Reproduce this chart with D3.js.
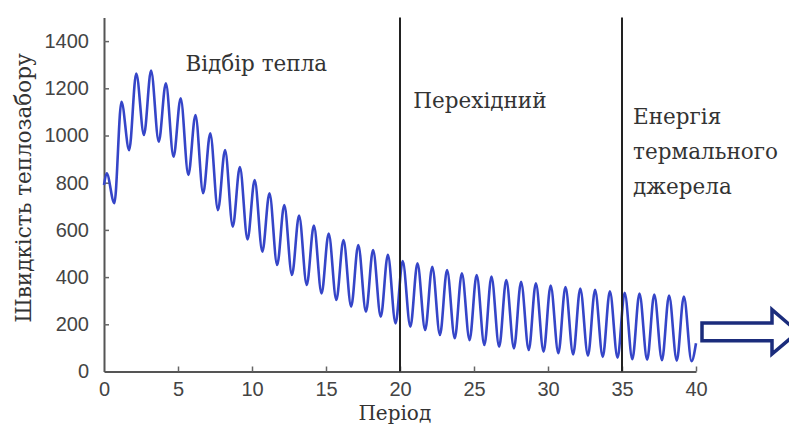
<!DOCTYPE html>
<html>
<head>
<meta charset="utf-8">
<script src="https://cdn.jsdelivr.net/npm/d3@7"></script>
<style>
  body { margin: 0; background: #fff; }
  svg { display: block; }
</style>
</head>
<body>
<div id="chart"></div>
<script>
// one entry per period (cycle 0..39): local max and local min of the heat extraction rate
const cycles = d3.range(0, 40)
const peakVal = [840, 1143, 1263, 1275, 1221, 1158, 1087, 1009, 938, 866,
  811, 755, 705, 661, 618, 585, 557, 536, 515, 494,
  468, 458, 444, 430, 416, 409, 402, 388, 380, 374,
  364, 358, 352, 346, 340, 334, 330, 326, 322, 318]
const troughVal = [713, 938, 1002, 974, 910, 833, 755, 684, 614, 560,
  508, 451, 409, 367, 331, 303, 275, 253, 232, 204,
  190, 176, 155, 141, 133, 112, 105, 98, 91, 84,
  78, 72, 67, 62, 58, 52, 50, 48, 46, 44]
const peakPhase = 0.18
const troughPhase = 0.7
const startPoint = [0, 790]
const endPoint = [40, 120]

const xTicks = [0, 5, 10, 15, 20, 25, 30, 35, 40]
const yTicks = [0, 200, 400, 600, 800, 1000, 1200, 1400]
const dividers = [20, 35]
const zoneLabels = [
  {x: 5.5, y: 1273, lines: ['Відбір тепла']},
  {x: 20.9, y: 1115, lines: ['Перехідний']},
  {x: 35.75, y: 1050, lines: ['Енергія', 'термального', 'джерела']}
]

// build the curve points
let pts = [startPoint]
cycles.forEach((c, i) => {
  pts.push([c + peakPhase, peakVal[i]])
  pts.push([c + troughPhase, troughVal[i]])
})
pts.push(endPoint)

const W = 789, H = 427
const margin = {left: 104, top: 17.5, right: 93, bottom: 55.5}

const svg = d3.select('#chart').append('svg').attr('width', W).attr('height', H)

const x = d3.scaleLinear().domain([0, 40]).range([margin.left, W - margin.right])
const y = d3.scaleLinear().domain([0, 1500]).range([H - margin.bottom, margin.top])

// axes
const yAxis = svg.append('g').attr('transform', `translate(${margin.left},0)`)
  .call(d3.axisLeft(y).tickValues(yTicks).tickFormat(d3.format('d')).tickSize(-5).tickSizeOuter(0).tickPadding(15))
const xAxis = svg.append('g').attr('transform', `translate(0,${y(0)})`)
  .call(d3.axisBottom(x).tickValues(xTicks).tickFormat(d3.format('d')).tickSize(-5).tickSizeOuter(0).tickPadding(10))

;[xAxis, yAxis].forEach(a => {
  a.select('.domain').attr('stroke', '#555').attr('stroke-width', 2)
  a.selectAll('.tick line').attr('stroke', '#666').attr('stroke-width', 1.5)
  a.selectAll('.tick text').attr('fill', '#444').style('font-family', 'Liberation Sans, Arial, sans-serif').style('font-size', '20px')
})
xAxis.selectAll('.tick').filter(d => d === 0).select('line').remove()
yAxis.selectAll('.tick').filter(d => d === 0).select('line').remove()

// the oscillating line
const line = d3.line().x(d => x(d[0])).y(d => y(d[1])).curve(d3.curveMonotoneX)
svg.append('path').datum(pts)
  .attr('d', line)
  .attr('fill', 'none')
  .attr('stroke', '#3545c8')
  .attr('stroke-width', 2.6)

// zone dividers
svg.selectAll('line.divider').data(dividers).enter().append('line')
  .attr('class', 'divider')
  .attr('x1', d => x(d)).attr('x2', d => x(d))
  .attr('y1', y(1500)).attr('y2', y(0))
  .attr('stroke', '#222').attr('stroke-width', 2)

// zone labels
zoneLabels.forEach(z => {
  const t = svg.append('text')
    .attr('x', x(z.x)).attr('y', y(z.y))
    .attr('fill', '#333')
    .style('font-family', 'DejaVu Serif, serif')
    .style('font-size', '21.5px')
  t.selectAll('tspan').data(z.lines).enter().append('tspan')
    .attr('x', x(z.x))
    .attr('dy', (d, i) => i ? 35 : 0)
    .text(d => d)
})

// axis titles
svg.append('text')
  .attr('transform', `translate(31,${y(777)}) rotate(-90)`)
  .attr('text-anchor', 'middle')
  .attr('fill', '#333')
  .style('font-family', 'DejaVu Serif, serif')
  .style('font-size', '21.5px')
  .text('Швидкість теплозабору')

svg.append('text')
  .attr('x', x(19.65)).attr('y', 420)
  .attr('text-anchor', 'middle')
  .attr('fill', '#333')
  .style('font-family', 'DejaVu Serif, serif')
  .style('font-size', '20px')
  .text('Період')

// hollow arrow pointing right, after the end of the record
const ax0 = x(40) + 6, axHead = ax0 + 70, axTip = ax0 + 96
const bodyTop = y(205), bodyBot = y(130), headTop = y(262), headBot = y(74)
const midY = (bodyTop + bodyBot) / 2
svg.append('path')
  .attr('d', `M${ax0},${bodyTop}H${axHead}V${headTop}L${axTip},${midY}L${axHead},${headBot}V${bodyBot}H${ax0}Z`)
  .attr('fill', '#fff')
  .attr('stroke', '#1b2c7c')
  .attr('stroke-width', 3.5)
  .attr('stroke-linejoin', 'miter')
</script>
</body>
</html>
